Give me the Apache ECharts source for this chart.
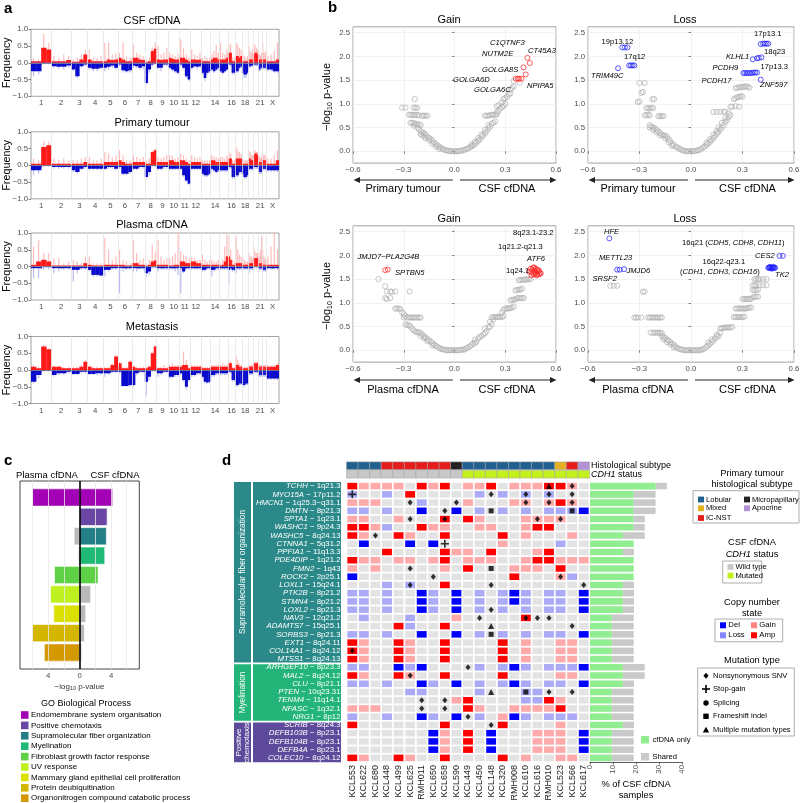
<!DOCTYPE html>
<html><head><meta charset="utf-8">
<script src="https://cdn.jsdelivr.net/npm/echarts@6/dist/echarts.min.js"></script>
<style>html,body{margin:0;padding:0;background:#fff}#c{width:800px;height:803px}</style>
</head><body><div id="c"></div>
<script>
const FONT = "'Liberation Sans', Arial, Helvetica, sans-serif";

// ---------------- Panel a : genome-wide CNA frequency ----------------
const chromNames = ['1','2','3','4','5','6','7','8','9','10','11','12','13','14','15','16','17','18','19','20','21','22','X'];
const chromLengthsMb = [249,243,198,191,181,171,159,146,141,136,135,134,115,107,103,90,81,78,59,63,48,51,155];
const chromLabelsShown = ['1','2','3','4','5','6','7','8','9','10','11','12','14','16','18','21','X'];
const panelTitlesA = ['CSF cfDNA','Primary tumour','Plasma cfDNA','Metastasis'];

// 4 bins per chromosome (1..22, X)
const csfGain = [
0.05,0.05,0.45,0.40, 0.05,0.05,0.05,0.08, 0.03,0.03,0.10,0.25, 0.10,0.05,0.05,0.05,
0.05,0.10,0.08,0.10, 0.15,0.10,0.05,0.05, 0.15,0.15,0.10,0.08, 0.02,0.05,0.35,0.42,
0.10,0.08,0.10,0.10, 0.15,0.12,0.10,0.10, 0.15,0.15,0.10,0.05, 0.10,0.10,0.08,0.10,
0.05,0.05,0.05,0.05, 0.10,0.15,0.15,0.10, 0.10,0.10,0.10,0.15, 0.30,0.30,0.05,0.05,
0.20,0.20,0.15,0.20, 0.05,0.05,0.05,0.05, 0.10,0.10,0.10,0.10, 0.25,0.30,0.30,0.25,
0.10,0.10,0.10,0.10, 0.10,0.10,0.10,0.10, 0.05,0.05,0.05,0.10];
const csfGainPale = [
0.15,0.10,0.87,0.60, 0.20,0.15,0.25,0.20, 0.10,0.15,0.25,0.40, 0.40,0.15,0.15,0.20,
0.60,0.60,0.25,0.30, 0.30,0.60,0.20,0.15, 0.55,0.30,0.25,0.20, 0.10,0.15,0.45,0.60,
0.50,0.25,0.30,0.45, 0.30,0.25,0.20,0.25, 0.70,0.45,0.25,0.15, 0.40,0.25,0.20,0.30,
0.15,0.20,0.15,0.15, 0.25,0.35,0.55,0.30, 0.60,0.30,0.25,0.40, 0.60,0.55,0.15,0.15,
0.60,0.55,0.45,0.40, 0.30,0.20,0.15,0.20, 0.50,0.35,0.30,0.40, 0.50,0.55,0.45,0.40,
0.35,0.25,0.20,0.30, 0.60,0.30,0.30,0.35, 0.20,0.25,0.35,0.60];
const csfLoss = [
-0.25,-0.25,-0.02,-0.02, -0.10,-0.12,-0.12,-0.08, -0.20,-0.40,-0.10,-0.05, -0.15,-0.18,-0.18,-0.15,
-0.15,-0.12,-0.08,-0.15, -0.05,-0.22,-0.25,-0.22, -0.08,-0.10,-0.15,-0.10, -0.60,-0.20,-0.05,-0.02,
-0.15,-0.15,-0.05,-0.05, -0.15,-0.20,-0.25,-0.30, -0.05,-0.15,-0.40,-0.50, -0.15,-0.10,-0.12,-0.10,
-0.30,-0.45,-0.30,-0.25, -0.20,-0.25,-0.20,-0.15, -0.25,-0.30,-0.25,-0.20, -0.05,-0.05,-0.30,-0.30,
-0.25,-0.25,-0.15,-0.10, -0.30,-0.35,-0.35,-0.30, -0.10,-0.10,-0.08,-0.08, -0.05,-0.05,-0.05,-0.05,
-0.20,-0.20,-0.15,-0.15, -0.15,-0.15,-0.15,-0.15, -0.20,-0.20,-0.25,-0.25];
const csfLossPale = [
-0.40,-0.35,-0.05,-0.05, -0.15,-0.18,-0.20,-0.15, -0.25,-0.45,-0.15,-0.10, -0.20,-0.25,-0.25,-0.20,
-0.25,-0.20,-0.15,-0.20, -0.10,-0.30,-0.30,-0.30, -0.15,-0.15,-0.20,-0.20, -0.65,-0.30,-0.10,-0.05,
-0.20,-0.25,-0.10,-0.10, -0.20,-0.25,-0.30,-0.35, -0.10,-0.20,-0.45,-0.55, -0.20,-0.15,-0.20,-0.15,
-0.35,-0.55,-0.35,-0.30, -0.25,-0.30,-0.25,-0.20, -0.30,-0.35,-0.30,-0.25, -0.10,-0.10,-0.35,-0.35,
-0.30,-0.30,-0.20,-0.15, -0.35,-0.45,-0.45,-0.35, -0.15,-0.15,-0.12,-0.12, -0.10,-0.10,-0.10,-0.10,
-0.25,-0.25,-0.20,-0.20, -0.20,-0.20,-0.20,-0.20, -0.25,-0.25,-0.30,-0.30];

const ptGain = [
0.05,0.05,0.55,0.60, 0.05,0.05,0.05,0.05, 0.05,0.05,0.05,0.10, 0.05,0.05,0.05,0.05,
0.10,0.10,0.10,0.10, 0.15,0.10,0.05,0.05, 0.10,0.10,0.10,0.10, 0.05,0.05,0.40,0.45,
0.10,0.10,0.10,0.10, 0.15,0.15,0.10,0.10, 0.15,0.15,0.10,0.05, 0.10,0.10,0.10,0.10,
0.05,0.05,0.05,0.05, 0.15,0.15,0.10,0.10, 0.10,0.10,0.10,0.10, 0.20,0.20,0.05,0.05,
0.20,0.20,0.20,0.20, 0.05,0.05,0.05,0.05, 0.20,0.20,0.15,0.15, 0.30,0.35,0.35,0.30,
0.10,0.10,0.10,0.10, 0.15,0.15,0.15,0.15, 0.05,0.05,0.05,0.15];
const ptGainPale = [
0.20,0.15,0.72,0.70, 0.20,0.15,0.20,0.15, 0.15,0.15,0.20,0.25, 0.25,0.15,0.15,0.20,
0.40,0.35,0.25,0.30, 0.45,0.30,0.15,0.15, 0.30,0.25,0.20,0.25, 0.15,0.20,0.45,0.50,
0.25,0.20,0.25,0.30, 0.30,0.30,0.20,0.25, 0.35,0.30,0.20,0.15, 0.30,0.25,0.20,0.25,
0.15,0.15,0.15,0.15, 0.30,0.25,0.25,0.20, 0.25,0.25,0.20,0.30, 0.40,0.35,0.15,0.15,
0.55,0.45,0.40,0.35, 0.20,0.15,0.15,0.15, 0.45,0.40,0.30,0.30, 0.45,0.45,0.40,0.40,
0.30,0.25,0.20,0.25, 0.35,0.30,0.30,0.30, 0.20,0.20,0.30,0.45];
const ptLoss = [
-0.15,-0.15,-0.02,-0.02, -0.05,-0.05,-0.05,-0.05, -0.15,-0.20,-0.10,-0.05, -0.10,-0.10,-0.10,-0.10,
-0.10,-0.05,-0.05,-0.10, -0.05,-0.25,-0.25,-0.20, -0.10,-0.10,-0.05,-0.05, -0.35,-0.20,-0.02,-0.02,
-0.10,-0.10,-0.05,-0.05, -0.10,-0.10,-0.10,-0.10, -0.10,-0.30,-0.45,-0.55, -0.10,-0.10,-0.10,-0.10,
-0.25,-0.30,-0.30,-0.25, -0.10,-0.15,-0.20,-0.15, -0.15,-0.15,-0.15,-0.15, -0.05,-0.05,-0.35,-0.35,
-0.30,-0.30,-0.20,-0.20, -0.25,-0.35,-0.35,-0.30, -0.10,-0.10,-0.10,-0.10, -0.05,-0.05,-0.05,-0.05,
-0.20,-0.20,-0.20,-0.20, -0.10,-0.10,-0.10,-0.10, -0.15,-0.15,-0.15,-0.15];
const ptLossPale = [
-0.30,-0.25,-0.05,-0.05, -0.10,-0.10,-0.10,-0.10, -0.20,-0.25,-0.15,-0.10, -0.15,-0.15,-0.15,-0.15,
-0.15,-0.10,-0.10,-0.15, -0.10,-0.30,-0.30,-0.25, -0.15,-0.15,-0.10,-0.10, -0.42,-0.30,-0.05,-0.05,
-0.15,-0.15,-0.10,-0.10, -0.15,-0.15,-0.15,-0.15, -0.15,-0.35,-0.50,-0.58, -0.15,-0.15,-0.15,-0.15,
-0.30,-0.35,-0.35,-0.30, -0.15,-0.20,-0.25,-0.20, -0.20,-0.20,-0.20,-0.20, -0.10,-0.10,-0.40,-0.40,
-0.35,-0.35,-0.25,-0.25, -0.30,-0.40,-0.40,-0.35, -0.15,-0.15,-0.15,-0.15, -0.10,-0.10,-0.10,-0.10,
-0.25,-0.25,-0.25,-0.25, -0.15,-0.15,-0.15,-0.15, -0.20,-0.20,-0.20,-0.20];

const plGain = [
0.05,0.15,0.20,0.15, 0.03,0.03,0.03,0.03, 0.03,0.03,0.03,0.10, 0.05,0.03,0.03,0.03,
0.05,0.05,0.05,0.05, 0.05,0.05,0.03,0.03, 0.10,0.10,0.05,0.05, 0.02,0.05,0.15,0.18,
0.05,0.05,0.05,0.05, 0.03,0.03,0.05,0.05, 0.15,0.15,0.10,0.10, 0.15,0.15,0.10,0.10,
0.05,0.05,0.05,0.05, 0.05,0.05,0.05,0.05, 0.03,0.05,0.15,0.30, 0.30,0.20,0.05,0.05,
0.10,0.10,0.10,0.10, 0.05,0.05,0.05,0.05, 0.10,0.10,0.10,0.10, 0.25,0.25,0.25,0.25,
0.10,0.10,0.10,0.10, 0.05,0.05,0.05,0.05, 0.05,0.05,0.05,0.05];
const plGainPale = [
0.60,0.80,0.40,0.40, 0.25,0.25,0.10,0.15, 0.20,0.15,0.10,0.30, 0.30,0.10,0.10,0.10,
0.85,0.50,0.20,0.30, 0.50,0.20,0.15,0.10, 0.78,0.40,0.20,0.25, 0.10,0.20,0.65,0.45,
0.80,0.30,0.20,0.25, 0.25,0.30,0.40,1.00, 0.45,0.35,0.30,0.25, 0.30,0.25,0.20,0.20,
0.35,0.20,0.15,0.20, 0.20,0.15,0.15,0.20, 0.10,0.20,0.60,0.95, 0.90,0.50,0.20,0.15,
0.90,0.50,0.35,0.30, 0.30,0.20,0.15,0.15, 0.40,0.30,0.30,0.25, 0.60,0.45,0.40,0.40,
0.40,0.30,0.50,0.90, 0.50,0.30,0.25,0.20, 0.30,0.60,1.00,0.50];
const plLoss = [
-0.05,-0.05,-0.02,-0.02, -0.05,-0.05,-0.05,-0.05, -0.10,-0.10,-0.05,-0.05, -0.10,-0.25,-0.25,-0.27,
-0.10,-0.10,-0.05,-0.05, -0.05,-0.05,-0.05,-0.05, -0.05,-0.05,-0.05,-0.05, -0.20,-0.15,-0.02,-0.02,
-0.05,-0.05,-0.05,-0.05, -0.05,-0.05,-0.05,-0.05, -0.05,-0.15,-0.05,-0.05, -0.05,-0.05,-0.05,-0.05,
-0.10,-0.10,-0.05,-0.05, -0.10,-0.10,-0.05,-0.05, -0.05,-0.05,-0.05,-0.05, -0.10,-0.05,-0.10,-0.10,
-0.05,-0.05,-0.05,-0.05, -0.05,-0.05,-0.05,-0.05, -0.05,-0.05,-0.05,-0.05, 0,0,0,0,
-0.05,-0.05,-0.05,-0.05, -0.10,-0.10,-0.10,-0.10, -0.05,-0.05,-0.05,-0.05];
const plLossPale = [
-0.35,-0.35,-0.10,-0.10, -0.20,-0.15,-0.10,-0.10, -0.45,-0.20,-0.10,-0.10, -0.15,-0.30,-0.30,-0.30,
-0.30,-0.15,-0.10,-0.10, -0.80,-0.15,-0.10,-0.10, -0.15,-0.15,-0.10,-0.10, -0.30,-0.25,-0.05,-0.05,
-0.15,-0.10,-0.10,-0.10, -0.10,-0.10,-0.15,-0.25, -0.80,-0.20,-0.10,-0.10, -0.10,-0.10,-0.10,-0.10,
-0.15,-0.15,-0.10,-0.10, -0.30,-0.15,-0.10,-0.10, -0.10,-0.10,-0.10,-0.10, -0.55,-0.10,-0.15,-0.15,
-0.20,-0.10,-0.10,-0.10, -0.10,-0.10,-0.10,-0.10, -0.20,-0.10,-0.10,-0.10, -0.05,-0.05,-0.05,-0.05,
-0.10,-0.10,-0.10,-0.10, -0.15,-0.15,-0.15,-0.15, -0.10,-0.10,-0.10,-0.10];

const metGain = [
0.10,0.05,0.70,0.62, 0.10,0.10,0.05,0.05, 0.05,0.05,0.10,0.25, 0.10,0.05,0.05,0.05,
0.05,0.05,0.15,0.40, 0.20,0.05,0.05,0.25, 0.10,0.05,0.05,0.05, 0.05,0.10,0.50,0.70,
0.05,0.05,0.05,0.05, 0.10,0.10,0.10,0.10, 0.10,0.15,0.15,0.05, 0.10,0.10,0.10,0.10,
0.05,0.05,0.05,0.05, 0.10,0.10,0.10,0.10, 0.10,0.10,0.10,0.10, 0.20,0.20,0.05,0.05,
0.15,0.15,0.10,0.10, 0.05,0.05,0.05,0.05, 0.10,0.10,0.10,0.10, 0.20,0.20,0.20,0.20,
0.10,0.10,0.10,0.10, 0.10,0.10,0.10,0.10, 0.10,0.10,0.10,0.15];
const metGainPale = [
0.15,0.10,0.75,0.65, 0.15,0.15,0.10,0.10, 0.10,0.10,0.15,0.30, 0.15,0.10,0.10,0.10,
0.10,0.10,0.20,0.45, 0.25,0.10,0.10,0.30, 0.15,0.10,0.10,0.10, 0.10,0.15,0.55,0.75,
0.10,0.10,0.15,0.10, 0.15,0.20,0.15,0.15, 0.15,0.55,0.30,0.10, 0.15,0.15,0.15,0.15,
0.10,0.10,0.10,0.10, 0.15,0.15,0.15,0.15, 0.15,0.20,0.15,0.15, 0.25,0.25,0.10,0.10,
0.40,0.30,0.20,0.15, 0.10,0.10,0.10,0.10, 0.15,0.15,0.15,0.15, 0.25,0.25,0.25,0.25,
0.15,0.15,0.15,0.15, 0.15,0.15,0.15,0.15, 0.15,0.15,0.15,0.20];
const metLoss = [
-0.35,-0.15,-0.02,-0.02, -0.15,-0.10,-0.10,-0.05, -0.12,-0.12,-0.05,-0.05, -0.12,-0.12,-0.10,-0.10,
-0.10,-0.10,-0.05,-0.05, -0.05,-0.48,-0.48,-0.45, -0.45,-0.10,-0.05,-0.05, -0.35,-0.20,-0.02,-0.02,
-0.10,-0.10,-0.05,-0.05, -0.20,-0.20,-0.15,-0.15, -0.10,-0.30,-0.50,-0.30, -0.15,-0.15,-0.10,-0.10,
-0.20,-0.35,-0.37,-0.35, -0.15,-0.15,-0.10,-0.10, -0.10,-0.10,-0.10,-0.10, -0.05,-0.05,-0.30,-0.30,
-0.45,-0.45,-0.40,-0.40, -0.45,-0.45,-0.40,-0.40, -0.10,-0.10,-0.10,-0.10, -0.05,-0.05,-0.05,-0.05,
-0.15,-0.15,-0.15,-0.15, -0.15,-0.15,-0.15,-0.15, -0.25,-0.25,-0.25,-0.25];
const metLossPale = [
-0.40,-0.25,-0.05,-0.05, -0.20,-0.15,-0.15,-0.10, -0.15,-0.15,-0.10,-0.10, -0.15,-0.15,-0.15,-0.15,
-0.20,-0.15,-0.10,-0.10, -0.10,-0.50,-0.50,-0.50, -0.50,-0.15,-0.10,-0.10, -0.76,-0.30,-0.05,-0.05,
-0.20,-0.15,-0.10,-0.10, -0.25,-0.25,-0.20,-0.20, -0.15,-0.35,-0.58,-0.35, -0.20,-0.20,-0.15,-0.15,
-0.25,-0.40,-0.40,-0.40, -0.20,-0.20,-0.15,-0.15, -0.15,-0.15,-0.15,-0.15, -0.10,-0.10,-0.35,-0.35,
-0.50,-0.50,-0.45,-0.45, -0.50,-0.50,-0.45,-0.45, -0.15,-0.15,-0.15,-0.15, -0.10,-0.10,-0.10,-0.10,
-0.20,-0.20,-0.20,-0.20, -0.20,-0.20,-0.20,-0.20, -0.30,-0.30,-0.30,-0.30];

// ---------------- Panel b : volcano plots ----------------
const ptGainGrey = [[-0.31,0.92],[-0.29,0.92],[-0.235,1.1],[-0.24,0.92],[-0.23,0.92],[-0.22,0.91],
[-0.27,0.77],[-0.26,0.77],[-0.25,0.77],[-0.24,0.76],[-0.23,0.77],[-0.22,0.76],[-0.21,0.76],[-0.19,0.75],[-0.18,0.75],[-0.17,0.75],[-0.16,0.75],
[-0.26,0.6],[-0.25,0.6],[-0.24,0.59],[-0.23,0.58],[-0.22,0.57],[-0.21,0.56],[-0.2,0.55],[-0.24,0.54],[-0.22,0.5],[-0.21,0.46],
[-0.2,0.42],[-0.19,0.4],[-0.18,0.38],[-0.2,0.36],[-0.19,0.34],[-0.17,0.35],[-0.18,0.31],[-0.16,0.3],[-0.15,0.28],[-0.17,0.27],[-0.14,0.26],[-0.15,0.23],[-0.13,0.22],[-0.12,0.18],[-0.13,0.16],[-0.11,0.15],[-0.1,0.12],[-0.11,0.1],[-0.09,0.1],[-0.08,0.07],[-0.09,0.05],[-0.07,0.05],[-0.06,0.03],[-0.05,0.02],[-0.04,0.01],[-0.03,0.01],[-0.02,0],[-0.01,0],[0,0],
[0.01,0],[0.02,0],[0.03,0.01],[0.04,0.01],[0.05,0.02],[0.06,0.03],[0.07,0.05],[0.08,0.06],[0.09,0.08],[0.1,0.1],[0.11,0.12],[0.1,0.14],[0.12,0.15],[0.13,0.18],[0.12,0.2],[0.14,0.22],[0.15,0.25],[0.14,0.28],[0.16,0.3],[0.17,0.33],[0.16,0.35],[0.18,0.38],[0.19,0.42],[0.18,0.45],[0.2,0.48],[0.21,0.52],[0.2,0.55],[0.22,0.58],[0.23,0.6],[0.24,0.63],
[0.18,0.75],[0.19,0.75],[0.2,0.75],[0.21,0.76],[0.22,0.77],[0.23,0.77],[0.24,0.77],[0.25,0.78],[0.25,0.82],[0.26,0.85],[0.27,0.9],[0.28,0.93],[0.29,0.96],[0.25,0.95],[0.26,0.97],[0.28,1.03],[0.3,1.0],[0.29,1.1],[0.3,1.12],[0.31,1.15],[0.32,1.2],[0.33,1.22],[0.33,1.3],[0.34,1.33],[0.35,1.37],[0.35,1.48],[0.385,1.45]];
const ptGainSig = [[0.362,1.53],[0.375,1.53],[0.382,1.53],[0.396,1.53],[0.421,1.62],[0.408,1.77],[0.431,1.97],[0.445,1.86]];

const ptLossGrey = [[-0.3,1.44],[-0.27,1.44],[-0.29,1.23],[-0.28,1.25],[-0.31,1.04],[-0.3,1.05],[-0.225,1.1],[-0.215,1.1],
[-0.26,0.91],[-0.25,0.91],[-0.24,0.9],[-0.23,0.92],[-0.22,0.91],[-0.27,0.76],[-0.26,0.76],[-0.25,0.77],[-0.24,0.76],[-0.19,0.74],[-0.18,0.74],[-0.17,0.74],[-0.16,0.74],
[-0.24,0.55],[-0.23,0.52],[-0.24,0.5],[-0.22,0.5],[-0.21,0.48],[-0.22,0.45],[-0.2,0.45],[-0.19,0.42],[-0.2,0.4],[-0.18,0.38],[-0.17,0.35],[-0.18,0.33],[-0.16,0.33],[-0.15,0.33],[-0.14,0.3],[-0.15,0.27],[-0.13,0.25],[-0.12,0.21],[-0.13,0.19],[-0.11,0.16],[-0.1,0.13],[-0.11,0.11],[-0.09,0.1],[-0.08,0.08],[-0.07,0.06],[-0.06,0.04],[-0.05,0.02],[-0.04,0.01],[-0.03,0],[-0.02,0],[-0.01,0],[0,0],
[0.01,0],[0.02,0],[0.03,0.01],[0.04,0.02],[0.05,0.03],[0.06,0.05],[0.07,0.08],[0.08,0.1],[0.09,0.13],[0.1,0.16],[0.09,0.18],[0.11,0.2],[0.12,0.23],[0.11,0.25],[0.13,0.28],[0.14,0.32],[0.13,0.35],[0.15,0.37],[0.16,0.4],[0.15,0.43],[0.17,0.46],[0.16,0.5],[0.18,0.5],[0.19,0.55],[0.18,0.6],[0.2,0.62],[0.21,0.66],[0.2,0.7],[0.22,0.72],[0.23,0.76],[0.22,0.8],
[0.13,0.83],[0.15,0.83],[0.17,0.83],[0.19,0.83],[0.2,0.84],[0.23,0.94],[0.24,0.94],[0.26,0.95],[0.28,0.94],[0.25,1.1],[0.26,1.12],[0.27,1.14],[0.28,1.15],[0.29,1.16],[0.3,1.15],
[0.26,1.33],[0.27,1.34],[0.28,1.35],[0.29,1.35],[0.3,1.36],[0.31,1.36],[0.32,1.37],[0.33,1.36],[0.34,1.34]];
const ptLossSig = [[-0.425,1.75],[-0.40,2.19],[-0.385,2.19],[-0.37,2.19],[-0.36,1.81],[-0.35,1.81],[-0.34,1.81],[-0.33,1.81],[0.305,1.65],[0.315,1.65],[0.325,1.65],[0.335,1.65],[0.345,1.65],[0.355,1.65],[0.365,1.66],[0.375,1.66],[0.385,1.66],[0.36,1.94],[0.385,1.96],[0.395,1.97],[0.41,1.98],[0.406,2.26],[0.42,2.27],[0.43,2.27],[0.44,2.27],[0.45,2.27],[0.406,1.51]];

const plGainGrey = [[-0.45,1.5],[-0.41,1.35],[-0.4,1.24],[-0.38,1.24],[-0.37,1.23],[-0.35,1.24],[-0.41,1.1],[-0.4,1.08],[-0.38,1.1],[-0.265,1.24],
[-0.35,0.88],[-0.34,0.88],[-0.33,0.88],[-0.32,0.87],[-0.31,0.8],[-0.3,0.76],[-0.29,0.72],[-0.3,0.69],[-0.28,0.69],[-0.27,0.69],[-0.26,0.69],[-0.25,0.69],[-0.24,0.69],[-0.23,0.69],[-0.22,0.69],[-0.21,0.69],[-0.2,0.69],
[-0.29,0.55],[-0.28,0.53],[-0.27,0.53],[-0.26,0.5],[-0.25,0.45],[-0.24,0.42],[-0.23,0.39],[-0.22,0.38],[-0.21,0.38],[-0.2,0.36],[-0.19,0.33],[-0.2,0.3],[-0.18,0.29],[-0.17,0.27],[-0.18,0.25],[-0.16,0.24],[-0.15,0.21],[-0.16,0.19],[-0.14,0.18],[-0.13,0.15],[-0.12,0.12],[-0.13,0.1],[-0.11,0.09],[-0.1,0.07],[-0.09,0.05],[-0.08,0.03],[-0.07,0.02],[-0.06,0.01],[-0.05,0],[-0.04,0],[-0.03,0],[-0.02,0],[-0.01,0],[0,0],
[0.01,0],[0.02,0],[0.03,0],[0.04,0.01],[0.05,0.01],[0.06,0.02],[0.07,0.04],[0.08,0.06],[0.09,0.08],[0.1,0.11],[0.11,0.14],[0.12,0.15],[0.13,0.18],[0.12,0.22],[0.14,0.25],[0.15,0.28],[0.16,0.3],[0.17,0.33],[0.18,0.36],[0.19,0.4],[0.18,0.46],[0.2,0.48],[0.21,0.5],[0.22,0.55],[0.21,0.6],[0.23,0.65],
[0.22,0.69],[0.23,0.7],[0.24,0.7],[0.25,0.7],[0.26,0.7],[0.27,0.71],[0.28,0.7],[0.29,0.72],[0.28,0.8],[0.29,0.85],[0.3,0.88],[0.31,0.88],[0.32,0.88],[0.33,0.89],[0.34,0.9],[0.35,0.92],
[0.33,1.05],[0.34,1.06],[0.35,1.07],[0.36,1.07],[0.37,1.1],[0.38,1.1],[0.39,1.1],[0.4,1.1],[0.41,1.1],[0.36,1.26],[0.37,1.27],[0.38,1.28],[0.39,1.28],[0.4,1.3],[0.38,1.48],[0.39,1.48],[0.4,1.49],[0.41,1.48],[0.42,1.5],[0.43,1.49],[0.44,1.5],[0.45,1.5]];
const plGainSig = [[-0.41,1.69],[-0.395,1.7],[0.44,1.66],[0.45,1.72],[0.455,1.65],[0.46,1.7],[0.465,1.62],[0.47,1.75],[0.47,1.6],[0.475,1.68],[0.48,1.72],[0.48,1.63],[0.485,1.58],[0.49,1.7],[0.49,1.6],[0.495,1.66],[0.5,1.68],[0.5,1.6],[0.505,1.63],[0.51,1.62],[0.455,1.58],[0.465,1.74]];

const plLossGrey = [[-0.47,1.36],[-0.45,1.36],[-0.43,1.36],[-0.28,1.23],[-0.27,1.24],
[-0.33,0.69],[-0.32,0.69],[-0.31,0.69],[-0.29,0.69],[-0.25,0.69],[-0.24,0.69],[-0.23,0.69],[-0.22,0.69],[-0.21,0.69],[-0.2,0.69],[-0.19,0.69],[-0.18,0.69],[-0.17,0.69],
[-0.235,0.37],[-0.22,0.37],[-0.21,0.37],[-0.2,0.37],[-0.19,0.37],[-0.18,0.37],[-0.17,0.36],[-0.17,0.3],[-0.16,0.28],[-0.15,0.26],[-0.16,0.23],[-0.14,0.22],[-0.13,0.2],[-0.14,0.17],[-0.12,0.17],[-0.11,0.14],[-0.12,0.12],[-0.1,0.11],[-0.09,0.08],[-0.1,0.06],[-0.08,0.05],[-0.07,0.03],[-0.06,0.02],[-0.05,0.01],[-0.04,0],[-0.03,0],[-0.02,0],[-0.01,0],[0,0],
[0.01,0],[0.02,0],[0.03,0],[0.04,0],[0.05,0],[0.06,0.01],[0.07,0.02],[0.08,0.04],[0.09,0.07],[0.1,0.1],[0.11,0.13],[0.1,0.16],[0.12,0.17],[0.13,0.2],[0.12,0.23],[0.14,0.25],[0.15,0.28],[0.16,0.3],[0.15,0.33],[0.17,0.37],
[0.17,0.46],[0.18,0.47],[0.19,0.47],[0.2,0.48],[0.21,0.48],[0.22,0.48],[0.23,0.48],[0.24,0.49],[0.25,0.7],[0.26,0.7],[0.27,0.7],[0.28,0.7],[0.29,0.7],[0.3,0.7],[0.31,0.71],
[0.26,0.88],[0.27,0.88],[0.28,0.88],[0.29,0.88],[0.3,0.88],[0.31,0.88],[0.32,0.88],[0.33,0.89],[0.34,0.9],[0.35,0.9],[0.3,1.08],[0.31,1.08],[0.32,1.08],[0.33,1.08],[0.34,1.08],[0.35,1.08],[0.36,1.12],[0.37,1.13],[0.38,1.13],[0.39,1.13],
[0.36,1.27],[0.37,1.27],[0.38,1.27],[0.39,1.28],[0.36,1.37],[0.37,1.37],[0.38,1.37],[0.4,1.37],[0.42,1.37],[0.44,1.37],[0.37,1.5],[0.38,1.5],[0.39,1.5],[0.4,1.5],[0.42,1.5],[0.44,1.5]];
const plLossSig = [[-0.476,2.36],[-0.43,1.7],[-0.415,1.7],[-0.39,1.71],[0.45,1.74],[0.455,1.74],[0.46,1.74],[0.465,1.74],[0.47,1.74],[0.475,1.74],[0.48,1.74],[0.485,1.74],[0.49,1.74],[0.46,1.76],[0.47,1.72],[0.48,1.76],[0.516,1.99],[0.535,1.99]];

// ---------------- Panel c : GO enrichment ----------------
const goTerms = ['Endomembrane system organisation','Positive chemotaxis','Supramolecular fiber organization','Myelination','Fibroblast growth factor response','UV response','Mammary gland epithelial cell proliferation','Protein deubiquitination','Organonitrogen compound catabolic process'];
const goColors = ['#a100b4','#6a47a4','#237f86','#1fba76','#5ed146','#bff01f','#dbe000','#d3b600','#d49800'];
const plasmaLogP = [6.0,0,0.7,0.16,3.2,3.7,3.3,6.0,4.5];
const csfLogP = [4.2,3.5,3.4,3.2,2.35,1.4,0.77,0.6,0.26];
const plasmaSig = [1,0,0,0,1,1,1,1,1];
const csfSig = [1,1,1,1,1,0,0,0,0];

// ---------------- Panel d : oncoprint ----------------
const samples = ['KCL553','KCL622','KCL680','KCL448','KCL499','KCL625','RMH011','KCL650','KCL658','KCL590','KCL449','KCL450','KCL148','KCL320','RMH008','KCL610','KCL616','RMH010','KCL523','KCL566','KCL617'];
const histology = ['Lobular','Lobular','Lobular','IC-NST','IC-NST','IC-NST','IC-NST','IC-NST','IC-NST','Micropapillary','Lobular','Lobular','Lobular','Lobular','Lobular','Lobular','Lobular','Lobular','Mixed','IC-NST','Apocrine'];
const cdh1Status = ['Wild type','Wild type','Wild type','Wild type','Wild type','Wild type','Wild type','Wild type','Wild type','Wild type','Mutated','Mutated','Mutated','Mutated','Mutated','Mutated','Mutated','Mutated','Mutated','Mutated','Mutated'];
const genes = ['TCHH','MYO15A','HMCN1','DMTN','SPTA1','WASHC1','WASHC5','CTNNA1','PPFIA1','PDE4DIP','FMN2','ROCK2','LOXL1','PTK2B','STMN4','LOXL2','NAV3','ADAMTS7','SORBS3','EXT1','COL14A1','MTSS1','ARHGEF10','MAL2','CLU','PTEN','TENM4','NFASC','NRG1','SCRIB','DEFB103B','DEFB104B','DEFB4A','COLEC10'];
const cytobands = ['1q21.3','17p11.2','1q25.3−q31.1','8p21.3','1q23.1','9p24.3','8q24.13','5q31.2','11q13.3','1q21.2','1q43','2p25.1','15q24.1','8p21.2','8p21.2','8p21.3','12q21.2','15q25.1','8p21.3','8q24.11','8q24.12','8q24.13','8p23.3','8q24.12','8p21.1','10q23.31','11q14.1','1q32.1','8p12','8q24.3','8p23.1','8p23.1','8p23.1','8q24.12'];
const geneGroups = ['Supramolecular fiber organization','Myelination','Positive chemotaxis'];
// copy-number state per gene (row) and sample (column): A amp, G gain, 0 neutral, L loss, D del
const cnRows = [
'AGGGG0AGA0GGA0GGGAAG0','L00L0A00000L0L0L0L000','GGG000L000G000GG0GAG0','LL0L00D00D0L0L0L0LLLD',
'GG00G000A0AG000GGGG00','AAGL00AGG00GG00GAA000','AG00AG00A0000A0G000G0','0D000D0D00000G0000L00',
'000A0000AGG0A000GA000','AGG0GG0GA0GGG00GAAGGG','G0G00000G0A000GGG0A00','D0000000000000A000GL0',
'000L0L00A000000000000','LL0L00DL0D0L0LDL0LL0D','LL0L00DL0D0L0LDL0LL0D','LL0L00DL0D0L0L0L0LL0D',
'0L000L000G00000A00000','0000AL00A000000000000','LL0L00D00D0L0L0L0LL0D','AG00AG00A0000A0G00GG0',
'AG00AG00A0000A0G00GG0','AG00AG00A0000A0G00GG0','LL00DLD0000L0LDL0LLLD','AG00AG00A0000A0000GG0',
'LL0L00DL0D0L0LDL0LL0D','00000LL0000L000LL0000','000000000GA0000LLAG00','GGG0000000AG00GGGGA00',
'L00L00DL0D0L0GDL0LLL0','A0000000A0000A0000G00','0000000DG0A0D000GGG0D','0000000DG0A0D000GGG0D',
'0000000DG0A0D000GGG0D','AG00AG00A0000A0G00GG0'];
const mutations = [
['KCL566','TCHH','snv'],['RMH010','TCHH','multi'],
['KCL553','MYO15A','stop'],['KCL148','MYO15A','snv'],['KCL610','MYO15A','snv'],['RMH010','MYO15A','snv'],['KCL566','MYO15A','snv'],
['KCL625','HMCN1','snv'],['KCL590','HMCN1','snv'],['KCL610','HMCN1','snv'],['RMH010','HMCN1','snv'],['KCL566','HMCN1','snv'],
['KCL658','DMTN','snv'],['KCL148','DMTN','frame'],['KCL566','DMTN','frame'],
['KCL625','SPTA1','snv'],['KCL658','SPTA1','snv'],['KCL616','SPTA1','snv'],['KCL523','SPTA1','snv'],
['KCL680','WASHC5','snv'],['KCL658','CTNNA1','stop'],
['KCL625','FMN2','snv'],['KCL148','FMN2','frame'],
['KCL650','ROCK2','snv'],['KCL523','ROCK2','snv'],
['KCL625','LOXL1','snv'],['KCL148','LOXL1','snv'],['KCL617','LOXL1','snv'],
['KCL148','LOXL2','snv'],
['KCL450','NAV3','snv'],['KCL610','NAV3','snv'],['KCL616','NAV3','snv'],['RMH010','NAV3','snv'],
['KCL148','ADAMTS7','multi'],['KCL566','ADAMTS7','snv'],
['KCL148','SORBS3','frame'],['KCL553','COL14A1','snv'],
['KCL449','ARHGEF10','snv'],['KCL625','MAL2','snv'],
['KCL148','PTEN','multi'],['KCL610','PTEN','frame'],['RMH010','PTEN','snv'],['KCL566','PTEN','snv'],
['RMH011','TENM4','snv'],['KCL658','TENM4','snv'],['RMH011','NFASC','snv'],['KCL658','NFASC','snv'],
['KCL449','NRG1','snv'],['KCL148','SCRIB','snv']];
// % of CSF cfDNA samples
const cfOnlyPct = [28.6,19.0,19.0,19.0,19.0,19.0,14.3,19.0,14.3,19.0,19.0,19.0,14.3,14.3,14.3,14.3,9.5,9.5,9.5,9.5,9.5,9.5,14.3,14.3,14.3,9.5,9.5,9.5,9.5,14.3,9.5,9.5,9.5,9.5];
const sharedPct = [4.8,9.5,9.5,9.5,4.8,4.8,9.5,0,4.8,0,0,0,4.8,4.8,4.8,4.8,9.5,9.5,9.5,9.5,9.5,9.5,9.5,9.5,4.8,9.5,9.5,9.5,9.5,4.8,9.5,9.5,9.5,9.5];

// ================= build =================
const chromStart = []; let acc = 0;
chromLengthsMb.forEach(l => { chromStart.push(acc); acc += l; });
const genomeLen = acc;
const chromBoundaries = chromStart.slice(1);
const labelCenters = chromLabelsShown.map(n => { const i = chromNames.indexOf(n); return chromStart[i] + chromLengthsMb[i] / 2; });
function chromLabelAt(v) { let b = 0, bd = 1e9; labelCenters.forEach((c, k) => { const d = Math.abs(c - v); if (d < bd) { bd = d; b = k; } }); return chromLabelsShown[b]; }
function binData(arr) { const out = []; chromLengthsMb.forEach((len, i) => { for (let j = 0; j < 4; j++) { const s = chromStart[i] + j * len / 4; out.push([s, s + len / 4, arr[i * 4 + j]]); } }); return out; }
const minus = v => (v < 0 ? '−' : '') + Math.abs(v).toFixed(1);

const grids = [], xAxes = [], yAxes = [], series = [];
const tickLbl = { fontSize: 7.8, color: '#4d4d4d', fontFamily: FONT };

// panel a
const aTops = [29.3, 131.8, 233, 336.5];
const aSets = [[csfGain, csfGainPale, csfLoss, csfLossPale], [ptGain, ptGainPale, ptLoss, ptLossPale], [plGain, plGainPale, plLoss, plLossPale], [metGain, metGainPale, metLoss, metLossPale]];
aTops.forEach((t, i) => {
  grids.push({ left: 31, top: t, width: 248, height: 67, show: true, borderColor: '#8a8a8a', borderWidth: 0.8, outerBoundsMode: 'none' });
  xAxes.push({ gridIndex: i, type: 'value', min: 0, max: genomeLen, axisLine: { show: false }, splitLine: { show: false },
    axisTick: { show: true, customValues: labelCenters, length: 2.5, lineStyle: { color: '#555', width: 0.7 } },
    axisLabel: Object.assign({ customValues: labelCenters, formatter: chromLabelAt, margin: 3 }, tickLbl) });
  yAxes.push({ gridIndex: i, type: 'value', min: -1, max: 1, interval: 0.5, axisLine: { show: false }, splitLine: { show: false },
    axisTick: { show: true, length: 2.5, lineStyle: { color: '#555', width: 0.7 } },
    axisLabel: Object.assign({ formatter: minus, margin: 3 }, tickLbl) });
  const [g, gp, l, lp] = aSets[i];
  series.push({ type: 'line', xAxisIndex: i, yAxisIndex: i, data: [], z: 1, silent: true,
    markLine: { silent: true, symbol: ['none', 'none'], label: { show: false }, animation: false,
      lineStyle: { color: '#e6e6e6', width: 0.8, type: 'solid' }, data: chromBoundaries.map(b => ({ xAxis: b })) } });
  const mk = (arr, color, pale, z) => ({ type: 'custom', xAxisIndex: i, yAxisIndex: i, data: binData(arr), encode: { x: [0, 1], y: 2 }, clip: true, silent: true, z,
    renderItem: (p, api) => {
      const s = api.value(0), e = api.value(1), v = api.value(2);
      if (!v) return null;
      if (pale) { const m = (s + e) / 2; const a = api.coord([m, 0]), b = api.coord([m, v]);
        return { type: 'rect', shape: { x: a[0] - 0.6, y: Math.min(a[1], b[1]), width: 1.2, height: Math.abs(b[1] - a[1]) }, style: { fill: color } }; }
      const a = api.coord([s, 0]), b = api.coord([e, v]);
      return { type: 'rect', shape: { x: a[0], y: Math.min(a[1], b[1]), width: b[0] - a[0] + 0.3, height: Math.abs(b[1] - a[1]) }, style: { fill: color } };
    } });
  series.push(mk(gp, '#ffbcbc', true, 2), mk(lp, '#bcbcf4', true, 2), mk(g, '#ff1a1a', false, 3), mk(l, '#0a0acd', false, 3));
  series.push({ type: 'line', xAxisIndex: i, yAxisIndex: i, data: [], z: 4, silent: true,
    markLine: { silent: true, symbol: ['none', 'none'], label: { show: false }, animation: false,
      lineStyle: { color: '#8c8c8c', width: 0.8, type: 'solid' }, data: [{ yAxis: 0 }] } });
});

// panel b
const bGrids = [[353, 26.8], [588, 26.8], [353, 225.8], [588, 225.8]];
const bWidths = [203, 206, 203, 206];
const bData = [[ptGainGrey, ptGainSig, '#ff2020'], [ptLossGrey, ptLossSig, '#1a1aff'], [plGainGrey, plGainSig, '#ff2020'], [plLossGrey, plLossSig, '#1a1aff']];
bGrids.forEach((p, k) => {
  const gi = 4 + k;
  grids.push({ left: p[0], top: p[1], width: bWidths[k], height: 136.3, show: true, borderColor: '#8a8a8a', borderWidth: 0.8, backgroundColor: '#fff', outerBoundsMode: 'none' });
  xAxes.push({ gridIndex: gi, type: 'value', min: -0.6, max: 0.6, interval: 0.15, axisLine: { show: false },
    splitLine: { show: true, lineStyle: { color: '#ececec', width: 0.7 } },
    axisTick: { show: true, customValues: [-0.6, -0.3, 0, 0.3, 0.6], length: 2.5, lineStyle: { color: '#555', width: 0.7 } },
    axisLabel: Object.assign({ customValues: [-0.6, -0.3, 0, 0.3, 0.6], formatter: minus, margin: 3 }, tickLbl) });
  yAxes.push({ gridIndex: gi, type: 'value', min: -0.25, max: 2.625, interval: 0.25, axisLine: { show: false },
    splitLine: { show: true, lineStyle: { color: '#ececec', width: 0.7 } },
    axisTick: { show: true, customValues: [0, 0.5, 1, 1.5, 2, 2.5], length: 2.5, lineStyle: { color: '#555', width: 0.7 } },
    axisLabel: Object.assign({ customValues: [0, 0.5, 1, 1.5, 2, 2.5], formatter: v => v.toFixed(1), margin: 3 }, tickLbl) });
  const [grey, sig, col] = bData[k];
  series.push({ type: 'scatter', xAxisIndex: gi, yAxisIndex: gi, data: grey, symbol: 'circle', symbolSize: 5.2, silent: true, z: 2,
    itemStyle: { color: 'rgba(0,0,0,0)', borderColor: '#b0b0b0', borderWidth: 0.9 } });
  series.push({ type: 'scatter', xAxisIndex: gi, yAxisIndex: gi, data: sig, symbol: 'circle', symbolSize: 5, silent: true, z: 3,
    itemStyle: { color: 'rgba(0,0,0,0)', borderColor: col, borderWidth: 0.9 } });
});

// panel c
grids.push({ left: 20, top: 481, width: 119.3, height: 188, show: true, borderColor: '#333', borderWidth: 0.9, outerBoundsMode: 'none' });
xAxes.push({ gridIndex: 8, type: 'value', min: -7.6, max: 7.6, axisLine: { show: false }, splitLine: { show: false },
  axisTick: { show: true, customValues: [-4, 0, 4], length: 2.5, lineStyle: { color: '#555', width: 0.7 } },
  axisLabel: Object.assign({ customValues: [-4, 0, 4], formatter: v => String(Math.abs(Math.round(v))), margin: 3 }, tickLbl) });
yAxes.push({ gridIndex: 8, type: 'value', min: -0.85, max: 8.85, inverse: true, show: false });
const goBarData = [];
goTerms.forEach((t, i) => {
  if (plasmaLogP[i] > 0) goBarData.push([i, -plasmaLogP[i], plasmaSig[i] ? i : -1]);
  if (csfLogP[i] > 0) goBarData.push([i, csfLogP[i], csfSig[i] ? i : -1]);
});
series.push({ type: 'line', xAxisIndex: 8, yAxisIndex: 8, data: [], z: 1, silent: true,
  markLine: { silent: true, symbol: ['none', 'none'], label: { show: false }, animation: false,
    lineStyle: { color: '#e8e8e8', width: 0.8, type: 'solid' }, data: [-6, -4, -2, 2, 4, 6].map(v => ({ xAxis: v })) } });
series.push({ type: 'custom', xAxisIndex: 8, yAxisIndex: 8, data: goBarData, encode: { x: 1, y: 0 }, silent: true, z: 2,
  renderItem: (p, api) => {
    const i = api.value(0), v = api.value(1), ci = api.value(2);
    const a = api.coord([0, i - 0.445]), b = api.coord([v, i + 0.445]);
    return { type: 'rect', shape: { x: Math.min(a[0], b[0]), y: Math.min(a[1], b[1]), width: Math.abs(b[0] - a[0]), height: Math.abs(b[1] - a[1]) },
      style: { fill: ci >= 0 ? goColors[ci] : '#b9b9b9', stroke: '#ffffff', lineWidth: 0.6 } };
  } });
series.push({ type: 'line', xAxisIndex: 8, yAxisIndex: 8, data: [], z: 5, silent: true,
  markLine: { silent: true, symbol: ['none', 'none'], label: { show: false }, animation: false,
    lineStyle: { color: '#000', width: 1.6, type: 'solid' }, data: [{ xAxis: 0 }] } });

// panel d : annotation rows (grid 9)
const histTypes = ['Lobular', 'Mixed', 'IC-NST', 'Micropapillary', 'Apocrine'];
const histColors = ['#215f8e', '#e5b020', '#e41c1c', '#222222', '#b391d6'];
const cdh1Types = ['Wild type', 'Mutated'];
const cdh1Colors = ['#c8c8c8', '#c4f01c'];
grids.push({ left: 346.5, top: 461.5, width: 243, height: 17, outerBoundsMode: 'none' });
xAxes.push({ gridIndex: 9, type: 'category', data: samples, show: false });
yAxes.push({ gridIndex: 9, type: 'category', data: ['hist', 'cdh1'], inverse: true, show: false });
const annotData = [];
samples.forEach((s, c) => {
  annotData.push([c, 0, histColors[histTypes.indexOf(histology[c])]]);
  annotData.push([c, 1, cdh1Colors[cdh1Types.indexOf(cdh1Status[c])]]);
});
series.push({ type: 'custom', xAxisIndex: 9, yAxisIndex: 9, data: annotData.map(d => [d[0], d[1]]), silent: true,
  renderItem: (p, api) => {
    const c = api.coord([api.value(0), api.value(1)]), sz = api.size([1, 1]);
    return { type: 'rect', shape: { x: c[0] - sz[0] / 2, y: c[1] - sz[1] / 2 + 0.4, width: sz[0], height: sz[1] - 0.8 },
      style: { fill: annotData[p.dataIndex][2], stroke: '#a0a0a0', lineWidth: 0.5 } };
  } });

// heatmap (grid 10)
const cnStates = ['0', 'G', 'A', 'L', 'D'];
const cnColors = ['#e3e3e3', '#ffaaaa', '#ff0000', '#aaaaf6', '#0000ff'];
grids.push({ left: 346.5, top: 482, width: 243, height: 280, outerBoundsMode: 'none' });
xAxes.push({ gridIndex: 10, type: 'category', data: samples, position: 'bottom', axisLine: { show: false }, axisTick: { show: false },
  axisLabel: { rotate: 90, fontSize: 9, color: '#1a1a1a', fontFamily: FONT, margin: 3, interval: 0 } });
yAxes.push({ gridIndex: 10, type: 'category', data: genes, inverse: true, z: 10, axisLine: { show: false }, axisTick: { show: false },
  axisLabel: { interval: 0, margin: 6, fontFamily: FONT, fontSize: 7.8, color: '#fff',
    formatter: (v, idx) => '{g|' + v + '}{n| − ' + cytobands[idx] + '}',
    rich: { g: { fontStyle: 'italic', color: '#fff', fontSize: 7.8, fontFamily: FONT }, n: { color: '#fff', fontSize: 7.8, fontFamily: FONT } } } });
const heatData = [];
cnRows.forEach((row, r) => { for (let c = 0; c < samples.length; c++) heatData.push([c, r, cnStates.indexOf(row[c])]); });
series.push({ type: 'custom', xAxisIndex: 10, yAxisIndex: 10, data: heatData, silent: true, z: 2,
  renderItem: (p, api) => {
    const c = api.coord([api.value(0), api.value(1)]), sz = api.size([1, 1]), g = 1.7;
    return { type: 'rect', shape: { x: c[0] - sz[0] / 2 + g / 2, y: c[1] - sz[1] / 2 + g / 2, width: sz[0] - g, height: sz[1] - g },
      style: { fill: cnColors[api.value(2)] } };
  } });
const mutSymbols = {
  snv: { symbol: 'diamond', size: [5, 6] },
  stop: { symbol: 'path://M4,0h2v10h-2zM0,4h10v2h-10z', size: 8 },
  splice: { symbol: 'circle', size: 5 },
  frame: { symbol: 'rect', size: 5 },
  multi: { symbol: 'triangle', size: 6 } };
Object.keys(mutSymbols).forEach(t => {
  const d = mutations.filter(m => m[2] === t).map(m => [samples.indexOf(m[0]), genes.indexOf(m[1])]);
  if (!d.length) return;
  series.push({ type: 'scatter', xAxisIndex: 10, yAxisIndex: 10, data: d, symbol: mutSymbols[t].symbol, symbolSize: mutSymbols[t].size,
    itemStyle: { color: '#000' }, silent: true, z: 4 });
});

// bar chart (grid 11)
grids.push({ left: 590, top: 482, width: 92, height: 280, outerBoundsMode: 'none' });
xAxes.push({ gridIndex: 11, type: 'value', min: 0, max: 40, interval: 10, position: 'bottom',
  axisLine: { show: true, lineStyle: { color: '#333', width: 0.8 } }, splitLine: { show: false },
  axisTick: { show: true, length: 2.5, lineStyle: { color: '#333', width: 0.7 } },
  axisLabel: Object.assign({ rotate: 90, margin: 3 }, tickLbl) });
yAxes.push({ gridIndex: 11, type: 'category', data: genes, inverse: true, show: false });
series.push({ type: 'bar', xAxisIndex: 11, yAxisIndex: 11, stack: 'pct', data: cfOnlyPct, barWidth: '80%', itemStyle: { color: '#90ee90' }, silent: true });
series.push({ type: 'bar', xAxisIndex: 11, yAxisIndex: 11, stack: 'pct', data: sharedPct, barWidth: '80%', itemStyle: { color: '#c9c9c9' }, silent: true });

// ================= graphics (text, legends) =================
function T(x, y, text, o) {
  o = o || {};
  const st = { text: text, fill: o.color || '#000', fontSize: o.size || 8, fontFamily: FONT,
    fontStyle: o.italic ? 'italic' : 'normal', fontWeight: o.bold ? 'bold' : 'normal',
    textAlign: o.align || 'left', textVerticalAlign: 'middle', align: o.align || 'left', verticalAlign: 'middle' };
  if (o.rich) st.rich = o.rich;
  return { type: 'text', x: x, y: y, rotation: o.rot || 0, silent: true, z: o.z || 90, style: st };
}
function R(x, y, w, h, fill, stroke, z) { return { type: 'rect', silent: true, z: z || 90, shape: { x, y, width: w, height: h }, style: { fill: fill || 'none', stroke: stroke || null, lineWidth: stroke ? 0.8 : 0 } }; }
function L(x1, y1, x2, y2, c, w) { return { type: 'line', silent: true, z: 90, shape: { x1, y1, x2, y2 }, style: { stroke: c || '#222', lineWidth: w || 1 } }; }
function P(pts, c) { return { type: 'polygon', silent: true, z: 90, shape: { points: pts }, style: { fill: c || '#222' } }; }
const G = [];
const subRich = { s: { fontSize: 7, fontFamily: FONT, padding: [6, 0, 0, 0] } };

// letters
G.push(T(4, 9, 'a', { size: 15, bold: true }), T(328, 8, 'b', { size: 15, bold: true }), T(4, 461, 'c', { size: 15, bold: true }), T(222, 461, 'd', { size: 15, bold: true }));
// panel a
const aTitleY = [20.5, 123, 225, 327];
panelTitlesA.forEach((t, i) => {
  G.push(T(152, aTitleY[i], t, { size: 11, align: 'center' }));
  G.push(T(7, aTops[i] + 33.5, 'Frequency', { size: 10.8, align: 'center', rot: Math.PI / 2 }));
});
// panel b
G.push(T(449, 20, 'Gain', { size: 11, align: 'center' }), T(685, 20, 'Loss', { size: 11, align: 'center' }),
  T(449, 218.5, 'Gain', { size: 11, align: 'center' }), T(685, 218.5, 'Loss', { size: 11, align: 'center' }));
G.push(T(327, 97, '−log{s|10} p-value', { size: 11, align: 'center', rot: Math.PI / 2, rich: subRich }));
G.push(T(327, 296, '−log{s|10} p-value', { size: 11, align: 'center', rot: Math.PI / 2, rich: subRich }));
[[180, 189, 'Primary tumour'], [380, 389.5, 'Plasma cfDNA']].forEach(r => {
  const ay = r[0], ty = r[1];
  G.push(L(452.7, ay, 359, ay), P([[353.5, ay], [360, ay - 3], [360, ay + 3]]), L(460, ay, 550, ay), P([[556.5, ay], [550, ay - 3], [550, ay + 3]]));
  G.push(L(688, ay, 594, ay), P([[588.5, ay], [595, ay - 3], [595, ay + 3]]), L(695, ay, 788, ay), P([[794.5, ay], [788, ay - 3], [788, ay + 3]]));
  G.push(T(403, ty, r[2], { size: 11, align: 'center' }), T(507, ty, 'CSF cfDNA', { size: 11, align: 'center' }),
    T(638, ty, r[2], { size: 11, align: 'center' }), T(747.5, ty, 'CSF cfDNA', { size: 11, align: 'center' }));
});
const ann = 7.6;
const itRich = { i: { fontStyle: 'italic', fontSize: ann, fontFamily: FONT } };
[
  [490, 43, 'C1QTNF3', 1], [482, 53.5, 'NUTM2E', 1], [528, 51, 'CT45A3', 1], [482, 70, 'GOLGA8S', 1], [453, 80, 'GOLGA6D', 1], [474, 89.5, 'GOLGA6C', 1], [527, 86, 'NPIPA5', 1],
  [601.5, 41.7, '19p13.12', 0], [624, 57.3, '17q12', 0], [591, 75.7, 'TRIM49C', 1], [754, 34.3, '17p13.1', 0], [764, 52.3, '18q23', 0], [726, 56.7, 'KLHL1', 1],
  [712.5, 67.7, 'PCDH9', 1], [760.5, 66.7, '17p13.3', 0], [701.5, 81, 'PCDH17', 1], [760, 85.3, 'ZNF597', 1],
  [513, 233, '8q23.1-23.2', 0], [498, 246.7, '1q21.2-q21.3', 0], [527, 259.3, 'ATF6', 1], [506, 270.5, '1q24.1', 0], [357.5, 257.3, 'JMJD7−PLA2G4B', 1], [395, 272.7, 'SPTBN5', 1],
  [604, 231.7, 'HFE', 1], [599, 257.7, 'METTL23', 1], [626.5, 271, 'JMJD6', 1], [592.5, 279, 'SRSF2', 1], [755, 255.7, 'CES2', 1], [702.5, 261.7, '16q22-q23.1', 0], [775, 275, 'TK2', 1]
].forEach(a => G.push(T(a[0], a[1], a[2], { size: ann, italic: !!a[3] })));
G.push(T(682, 243.3, '16q21 ({i|CDH5}, {i|CDH8}, {i|CDH11})', { size: ann, rich: itRich }));
G.push(T(680, 271.7, '({i|CDH1}, {i|CDH3}, {i|CDH16})', { size: ann, rich: itRich }));
// panel c
G.push(T(47, 475, 'Plasma cfDNA', { size: 9.5, align: 'center' }), T(115, 475, 'CSF cfDNA', { size: 9.5, align: 'center' }));
G.push(T(79.5, 686.5, '−log{s|10} p-value', { size: 8, align: 'center', color: '#333', rich: { s: { fontSize: 5.5, fontFamily: FONT, padding: [4, 0, 0, 0] } } }));
G.push(T(86, 704, 'GO Biological Process', { size: 9, align: 'center' }));
goTerms.forEach((t, i) => {
  const y = 715 + i * 10.4;
  G.push(R(21, y - 3.8, 7.5, 7.6, goColors[i]), T(31, y, t, { size: 8 }));
});
// panel d group boxes (drawn beneath the axis labels)
const grpCols = ['#2b8a89', '#22b479', '#5d4a9b'];
const grpY = [[482, 180.5], [664.3, 56.5], [722.6, 39.6]];
grpY.forEach((g, i) => { G.push(R(234, g[0], 17, g[1], grpCols[i], null, 1), R(253, g[0], 88, g[1], grpCols[i], null, 1)); });
G.push(T(242.5, 572, 'Supramolecular fiber organization', { size: 8.3, color: '#fff', align: 'center', rot: Math.PI / 2 }));
G.push(T(242.5, 692.5, 'Myelination', { size: 8.3, color: '#fff', align: 'center', rot: Math.PI / 2 }));
G.push(T(238.5, 742.5, 'Positive', { size: 8, color: '#fff', align: 'center', rot: Math.PI / 2 }));
G.push(T(246.8, 742.5, 'chemotaxis', { size: 8, color: '#fff', align: 'center', rot: Math.PI / 2 }));
G.push(T(591, 466, 'Histological subtype', { size: 9 }));
G.push(T(591, 474.5, '{i|CDH1} status', { size: 9, rich: { i: { fontStyle: 'italic', fontSize: 9, fontFamily: FONT } } }));
// bar legend / axis title
G.push(R(641, 736, 8, 7.5, '#90ee90'), T(652.5, 739.7, 'cfDNA only', { size: 7.6 }));
G.push(R(641, 753, 8, 7.5, '#c9c9c9'), T(652.5, 756.7, 'Shared', { size: 7.6 }));
G.push(T(636, 784, '% of CSF cfDNA', { size: 9.3, align: 'center' }), T(636, 795.5, 'samples', { size: 9.3, align: 'center' }));
// right legends
G.push(T(752, 473, 'Primary tumour', { size: 9.3, align: 'center' }), T(752, 484.5, 'histological subtype', { size: 9.3, align: 'center' }));
G.push(R(693, 490.7, 106, 32.3, '#fff', '#9a9a9a'));
[[698, 499.5, 0, 'Lobular'], [744, 499.5, 3, 'Micropapillary'], [698, 508.3, 1, 'Mixed'], [744, 508.3, 4, 'Apocrine'], [698, 518, 2, 'IC-NST']].forEach(e => {
  G.push(R(e[0], e[1] - 2.9, 6, 5.8, histColors[e[2]]), T(e[0] + 8, e[1], e[3], { size: 7.6 }));
});
G.push(T(752, 542.5, 'CSF cfDNA', { size: 9.3, align: 'center' }), T(752, 554, '{i|CDH1} status', { size: 9.3, align: 'center', rich: { i: { fontStyle: 'italic', fontSize: 9.3, fontFamily: FONT } } }));
G.push(R(722.7, 561, 39, 22, '#fff', '#9a9a9a'));
G.push(R(727.5, 564, 6, 5.8, cdh1Colors[0]), T(735.5, 567, 'Wild type', { size: 7.6 }));
G.push(R(727.5, 572.7, 6, 5.8, cdh1Colors[1]), T(735.5, 575.6, 'Mutated', { size: 7.6 }));
G.push(T(752, 602.5, 'Copy number', { size: 9.3, align: 'center' }), T(752, 613.5, 'state', { size: 9.3, align: 'center' }));
G.push(R(715, 619, 67.7, 22.7, '#fff', '#9a9a9a'));
[[720, 625.3, '#0000ff', 'Del'], [751, 625.3, '#ff8585', 'Gain'], [720, 635.3, '#8585ff', 'Loss'], [751, 635.3, '#ff0000', 'Amp']].forEach(e => {
  G.push(R(e[0], e[1] - 3, 6, 6, e[2]), T(e[0] + 8.3, e[1], e[3], { size: 7.8 }));
});
G.push(T(752, 660.5, 'Mutation type', { size: 9.3, align: 'center' }));
G.push(R(697.7, 668, 96.6, 68, '#fff', '#9a9a9a'));
const mt = [[675.7, 'Nonsynonymous SNV'], [689, 'Stop-gain'], [703, 'Splicing'], [716.3, 'Frameshift indel'], [730, 'Multiple mutation types']];
mt.forEach(e => G.push(T(713, e[0], e[1], { size: 7.6 })));
G.push(P([[706, 672.7], [708.6, 675.7], [706, 678.7], [703.4, 675.7]], '#000'));
G.push(R(702, 688.2, 8, 1.6, '#000'), R(705.2, 685, 1.6, 8, '#000'));
G.push({ type: 'circle', silent: true, z: 90, shape: { cx: 706, cy: 703, r: 2.7 }, style: { fill: '#000' } });
G.push(R(703.3, 713.6, 5.4, 5.4, '#000'));
G.push(P([[706, 726.8], [709.2, 732.6], [702.8, 732.6]], '#000'));

const option = {
  animation: false,
  backgroundColor: '#ffffff',
  textStyle: { fontFamily: FONT },
  grid: grids, xAxis: xAxes, yAxis: yAxes, series: series,
  graphic: { elements: G }
};
const chart = echarts.init(document.getElementById('c'), null, { renderer: 'canvas', width: 800, height: 803 });
chart.setOption(option);
</script></body></html>
